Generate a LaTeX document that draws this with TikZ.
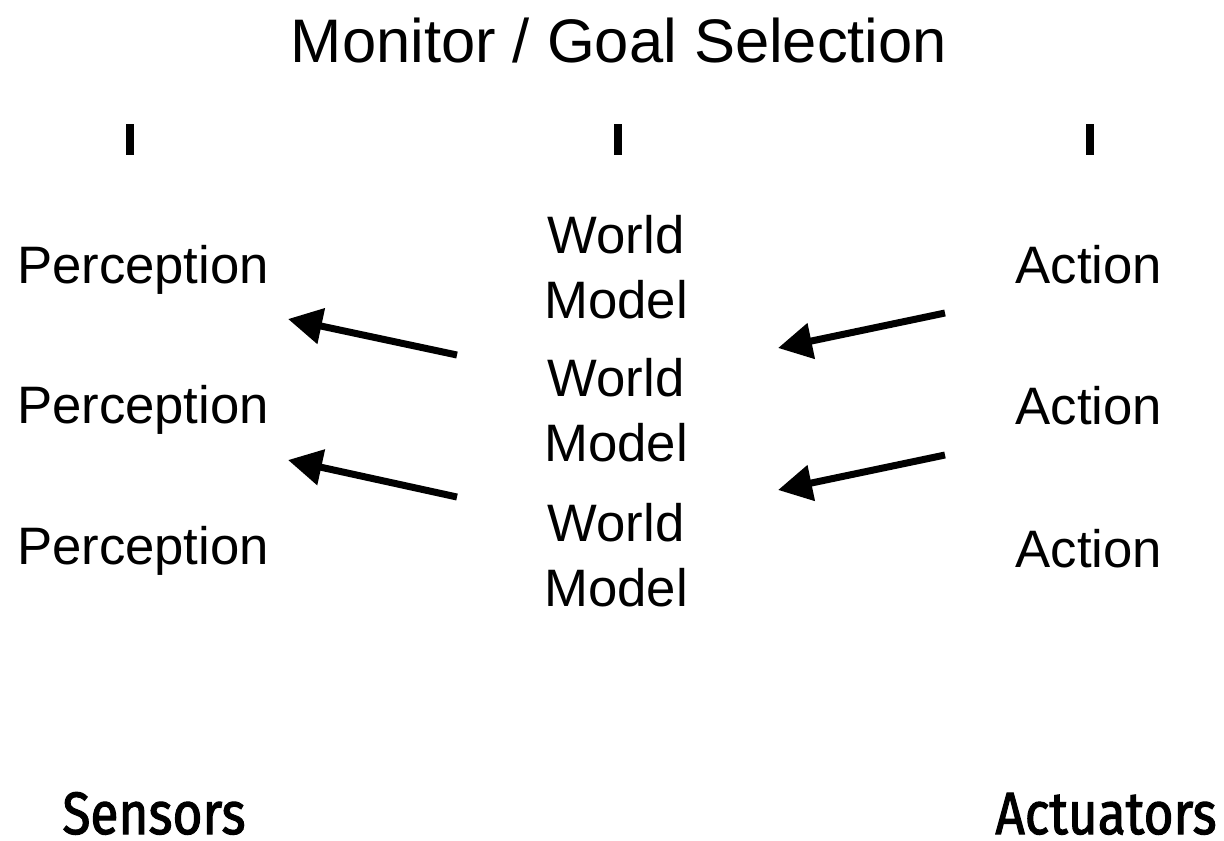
\documentclass[tikz,border=0pt]{standalone}
\usepackage{fontspec}
\setmainfont{Liberation Sans}
\newfontfamily\capfont{Fira Sans}[FakeStretch=0.86, FakeBold=1.8]
\usetikzlibrary{arrows.meta}

\begin{document}
\begin{tikzpicture}[x=0.02cm,y=-0.02cm]

\tikzset{
    label/.style={inner sep=0pt, font=\fontsize{30}{36.8}\selectfont},
    headline/.style={inner sep=0pt, font=\fontsize{35}{42}\selectfont},
    endlabel/.style={inner sep=0pt, font=\capfont\fontsize{34}{40}\selectfont},
    tick/.style={line width=0.16cm},
    flow/.style={line width=0.14cm, -{Triangle[length=0.68cm,width=0.7cm]}}
}

    %Rahmen
    \useasboundingbox (0,0) rectangle (1224,840);

    %Titel
    \node[headline, anchor=base] (monitor) at (619,62) {Monitor / Goal Selection};

    %Striche
    \draw[tick] (130,124) -- ++(0,31);
    \draw[tick] (618,124) -- ++(0,31);
    \draw[tick] (1090,124) -- ++(0,31);

    %Linke Spalte
    \node[label, anchor=base] (perc1) at (143,283) {Perception};
    \node[label, anchor=base] (perc2) at (143,423) {Perception};
    \node[label, anchor=base] (perc3) at (143,564) {Perception};

    %Mitte
    \node[label, anchor=north, align=center] (world1) at (616,215) {World\\Model};
    \node[label, anchor=north, align=center] (world2) at (616,358) {World\\Model};
    \node[label, anchor=north, align=center] (world3) at (616,503) {World\\Model};

    %Rechte Spalte
    \node[label, anchor=base] (act1) at (1089,283) {Action};
    \node[label, anchor=base] (act2) at (1089,424) {Action};
    \node[label, anchor=base] (act3) at (1089,567) {Action};

    %Pfeile
    \coordinate (wmleft1) at (457,355);
    \coordinate (wmleft2) at (457,497);
    \coordinate (percin1) at (288,319);
    \coordinate (percin2) at (288,460);
    \coordinate (actout1) at (945,313);
    \coordinate (actout2) at (945,455);
    \coordinate (wmright1) at (778,348);
    \coordinate (wmright2) at (778,490);
    \draw[flow] (wmleft1) -- (percin1);
    \draw[flow] (wmleft2) -- (percin2);
    \draw[flow] (actout1) -- (wmright1);
    \draw[flow] (actout2) -- (wmright2);

    %Unten
    \node[endlabel, anchor=base] (sensors) at (154,834) {Sensors};
    \node[endlabel, anchor=base] (actuators) at (1106,834) {Actuators};

\end{tikzpicture}
\end{document}
